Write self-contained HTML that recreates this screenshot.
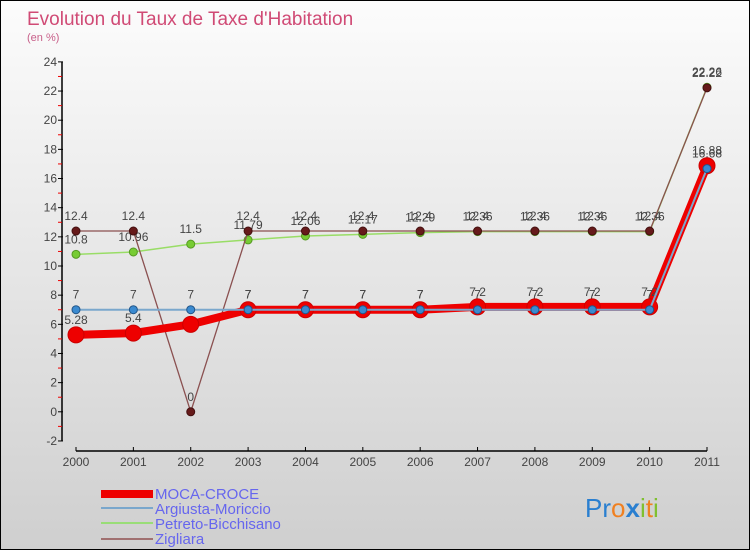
<!DOCTYPE html>
<html><head><meta charset="utf-8"><style>
html,body{margin:0;padding:0}
body{width:750px;height:550px;overflow:hidden;font-family:"Liberation Sans",sans-serif}
#wrap{position:relative;width:748px;height:548px;border:1px solid #000;background:linear-gradient(#fcfcfc,#cfcfcf)}
</style></head><body>
<div id="wrap">
<svg id="chart" width="748" height="548">
<text x="26" y="24" font-size="19" fill="#d04a75">Evolution du Taux de Taxe d'Habitation</text>
<text x="26" y="40" font-size="11" fill="#c8608a">(en %)</text>
<g id="axes"></g><g id="series"></g>
<g>
<rect x="100" y="489" width="52" height="8" fill="#e00"/>
<text x="154" y="498" font-size="15" fill="#6666ee">MOCA-CROCE</text>
<line x1="100" y1="507" x2="152" y2="507" stroke="#7aa7cc" stroke-width="2"/>
<text x="154" y="513" font-size="15" fill="#6666ee">Argiusta-Moriccio</text>
<line x1="100" y1="522" x2="152" y2="522" stroke="#99dd77" stroke-width="2"/>
<text x="154" y="528" font-size="15" fill="#6666ee">Petreto-Bicchisano</text>
<line x1="100" y1="538" x2="152" y2="538" stroke="#a07070" stroke-width="2"/>
<text x="154" y="543" font-size="15" fill="#6666ee">Zigliara</text>
</g>
<g font-size="26">
<text x="584" y="516"><tspan fill="#2a7fd0">Pr</tspan><tspan fill="#f08020">o</tspan><tspan fill="#2a7fd0" font-weight="bold">x</tspan><tspan fill="#80c030">i</tspan><tspan fill="#f08020">t</tspan><tspan fill="#80c030">i</tspan></text>
</g>
</svg>
</div>
<script>
const years=["2000","2001","2002","2003","2004","2005","2006","2007","2008","2009","2010","2011"];
const yTicks=[-2,0,2,4,6,8,10,12,14,16,18,20,22,24];
const moca=[5.28,5.4,6,7,7,7,7,7.2,7.2,7.2,7.2,16.88];
const argiusta=[7,7,7,7,7,7,7,7,7,7,7,16.68];
const petreto=[10.8,10.96,11.5,11.79,12.06,12.17,12.29,12.36,12.36,12.36,12.36,22.26];
const zigliara=[12.4,12.4,0,12.4,12.4,12.4,12.4,12.4,12.4,12.4,12.4,22.22];
const NS="http://www.w3.org/2000/svg";
const X=i=>75+i*(706-75)/(years.length-1);
const Y=v=>410.8-v*14.58;
function mk(t,a,p){const e=document.createElementNS(NS,t);for(const k in a)e.setAttribute(k,a[k]);p.appendChild(e);return e;}
const ax=document.getElementById('axes'),sg=document.getElementById('series');
const ya=mk('line',{x1:61,y1:Y(24),x2:61,y2:Y(-2),stroke:'#000','stroke-width':1.5},ax);


yTicks.forEach(v=>{
 mk('line',{x1:57,y1:Y(v),x2:62,y2:Y(v),stroke:'#000'},ax);
 if(v<24) mk('line',{x1:57,y1:Y(v+1),x2:61,y2:Y(v+1),stroke:'#e00'},ax);
 const t=mk('text',{x:56,y:Y(v)+4,'font-size':12,fill:'#444','text-anchor':'end'},ax);t.textContent=v;
 
 
});
const xa=mk('line',{x1:75,y1:450,x2:706,y2:450,stroke:'#000','stroke-width':1.5},ax);


years.forEach((y,i)=>{
 mk('line',{x1:X(i),y1:446,x2:X(i),y2:450,stroke:'#000'},ax);
 const t=mk('text',{x:X(i),y:465,'font-size':12,fill:'#444','text-anchor':'middle'},ax);t.textContent=y;
 
 
});
function series(name,data,color,w,dotR,dotFill,dotStroke,labels,skip){
 const g=mk('g',{},sg);
 
 
 mk('polyline',{points:data.map((v,i)=>X(i)+','+Y(v)).join(' '),fill:'none',stroke:color,'stroke-width':w,'stroke-linejoin':'round'},g);
 data.forEach((v,i)=>{
  const c=mk('circle',{cx:X(i),cy:Y(v),r:dotR,fill:dotFill,stroke:dotStroke,'stroke-width':1},g);
  
  
  if(labels&&!(skip||[]).includes(i)){const t=mk('text',{x:X(i),y:Y(v)-11,'font-size':12,fill:'#444','text-anchor':'middle'},g);t.textContent=v;}
 });
}
series('petreto',petreto,'#99dd66',1.5,4,'#77cc33','#559922',true);
series('zigliara',zigliara,'#8a5050',1.3,4,'#661a1a','#441010',true);
series('moca',moca,'#ee0000',8,8,'#ee0000','#cc0000',true,[2]);
series('argiusta',argiusta,'#7aa7cc',2,4,'#3a8ad0','#225588',true);
</script>
</body></html>
